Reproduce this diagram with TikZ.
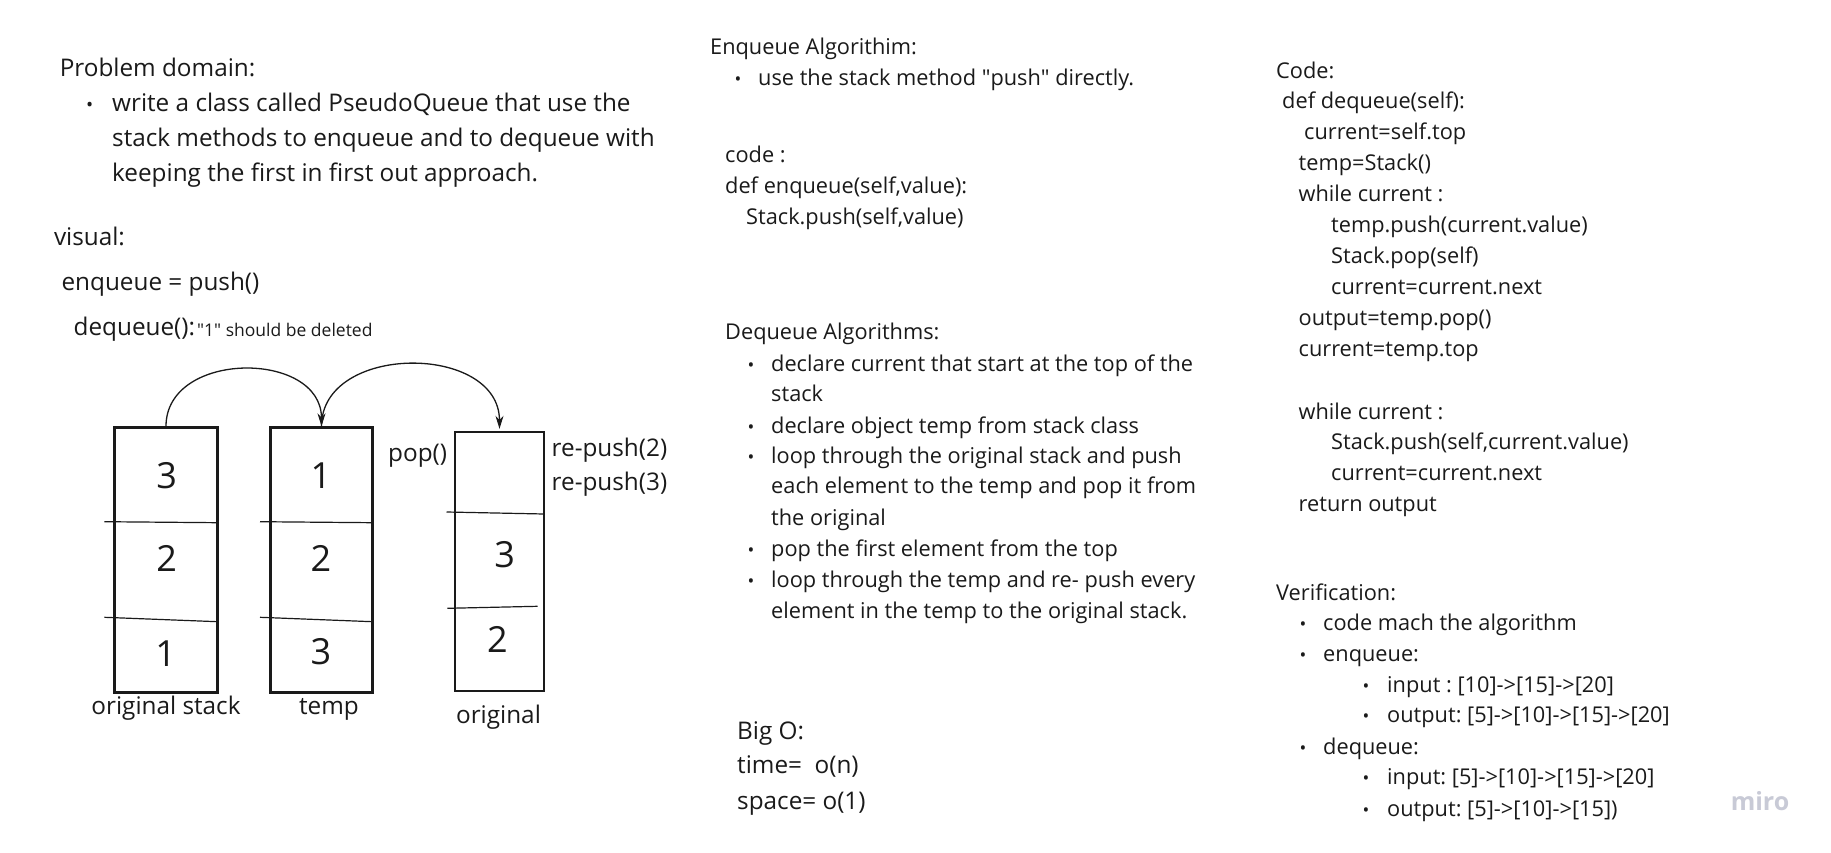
\documentclass[tikz,border=0pt]{standalone}
\usepackage{fontspec}
\setmainfont{Open Sans}
\usetikzlibrary{arrows.meta}
\definecolor{ink}{HTML}{1A1A1A}
\definecolor{mirogray}{HTML}{C8CAD6}
\frenchspacing
\begin{document}
\frenchspacing
\begin{tikzpicture}[x=1pt,y=-1pt,
  t/.style={anchor=base west, inner sep=0pt, text=ink, yshift=-1.5pt, font=\fontsize{21.75}{31}\selectfont},
  tb/.style={anchor=base west, inner sep=0pt, text=ink, font=\fontsize{24.3}{35}\selectfont},
  tbc/.style={anchor=base, inner sep=0pt, text=ink, font=\fontsize{24.3}{35}\selectfont},
  ts/.style={anchor=base west, inner sep=0pt, text=ink, font=\fontsize{17.5}{24}\selectfont},
  bul/.style={anchor=base, inner sep=0pt, text=ink, yshift=-1.5pt, font=\fontsize{18}{20}\selectfont},
  num/.style={anchor=center, inner sep=0pt, text=ink, font=\fontsize{36}{40}\selectfont},
  stackbox/.style={draw=ink, line width=2.4pt, inner sep=0pt},
  divider/.style={draw=ink, line width=1.2pt},
  conn/.style={draw=ink, line width=1.3pt, -{Stealth[length=13pt,width=8pt]}},
]
\useasboundingbox[fill=white] (0,0) rectangle (1831,853);

% ---------- left column ----------
\node[tb] (pd) at (59.6,76.5) {Problem domain:};
\node[bul,yshift=1.5pt,font=\fontsize{19}{20}\selectfont] (pdb) at (89.7,111.7) {•};
\node[tb] (pd1) at (112,111.7) {write a class called PseudoQueue that use the};
\node[tb] (pd2) at (112,146.7) {stack methods to enqueue and to dequeue with};
\node[tb] (pd3) at (112,181.7) {keeping the first in first out approach.};
\node[tb] (vis) at (53.8,245) {visual:};
\node[tb] (enq) at (61.4,290) {enqueue = push()};
\node[tb] (deq) at (73.5,335) {dequeue():};
\node[ts] (deqn) at (197,336.5) {\textquotedbl1\textquotedbl{} should be deleted};

% stacks
\node[stackbox, minimum width=103pt, minimum height=265pt] (b1) at (166,560) {};
\node[stackbox, minimum width=102pt, minimum height=265pt] (b2) at (321.5,560) {};
\node[stackbox, minimum width=89pt, minimum height=259pt] (b3) at (499.5,561.5) {};

\draw[divider] (104.3,521.7) -- (217.8,522.7);
\draw[divider] (104.3,617.3) -- (217.8,621.7);
\draw[divider] (260,521.7) -- (372.5,522.7);
\draw[divider] (260,617.3) -- (372.5,621.7);
\draw[divider] (446.5,512) -- (544,514);
\draw[divider] (447.3,608.3) -- (537.5,606.3);

\node[num] (n13) at (166.6,476) {3};
\node[num] (n12) at (166.6,558.3) {2};
\node[num] (n11) at (165.7,653.3) {1};
\node[num] (n21) at (321,476) {1};
\node[num] (n22) at (321,558.3) {2};
\node[num] (n23) at (321,651.7) {3};
\node[num] (n33) at (504.7,555) {3};
\node[num] (n32) at (497.3,639.3) {2};

\node[tbc] (lb1) at (166,714) {original stack};
\node[tbc] (lb2) at (329,714) {temp};
\node[tbc] (lb3) at (498.5,723) {original};
\node[tb] (pop) at (388,461) {pop()};
\node[tb] (rp2) at (551.5,456.5) {re-push(2)};
\node[tb] (rp3) at (551.5,490.5) {re-push(3)};

\draw[conn] (b1.north) .. controls (166,350) and (321.5,350) .. (b2.north);
\draw[conn, shorten >=2pt] (b2.north) .. controls (321.5,343) and (499.5,343) .. (b3.north);

% ---------- middle column ----------
\node[t] (ea) at (710,53.5) {Enqueue Algorithim:};
\node[bul] (eab) at (738,84.5) {•};
\node[t] (ea1) at (758,84.5) {use the stack method \textquotedbl push\textquotedbl{} directly.};
\node[t] (ec0) at (725,161.5) {code :};
\node[t] (ec1) at (725,192.5) {def enqueue(self,value):};
\node[t] (ec2) at (746,223.5) {Stack.push(self,value)};

\node[t] (da) at (725,338) {Dequeue Algorithms:};
\node[bul] (dab1) at (751,369.7) {•};
\node[t] (da1) at (771,369.7) {declare current that start at the top of the};
\node[t] (da2) at (771,400) {stack};
\node[bul] (dab2) at (751,431.5) {•};
\node[t] (da3) at (771,431.5) {declare object temp from stack class};
\node[bul] (dab3) at (751,462) {•};
\node[t] (da4) at (771,462) {loop through the original stack and push};
\node[t] (da5) at (771,492.3) {each element to the temp and pop it from};
\node[t] (da6) at (771,523.8) {the original};
\node[bul] (dab4) at (751,555.3) {•};
\node[t] (da7) at (771,555.3) {pop the first element from the top};
\node[bul] (dab5) at (751,585.7) {•};
\node[t] (da8) at (771,585.7) {loop through the temp and re- push every};
\node[t] (da9) at (771,617.2) {element in the temp to the original stack.};

\node[tb] (bo0) at (737,739) {Big O:};
\node[tb] (bo1) at (737,773) {time=\ \ o(n)};
\node[tb] (bo2) at (737,809) {space= o(1)};

% ---------- right column ----------
\node[t] (c0) at (1276,76.6) {Code:};
\node[t] (c1) at (1282,107) {def dequeue(self):};
\node[t] (c2) at (1304,138.4) {current=self.top};
\node[t] (c3) at (1298.5,168.8) {temp=Stack()};
\node[t] (c4) at (1298.5,200.3) {while current :};
\node[t] (c5) at (1331,230.7) {temp.push(current.value)};
\node[t] (c6) at (1331,262.2) {Stack.pop(self)};
\node[t] (c7) at (1331,292.6) {current=current.next};
\node[t] (c8) at (1298.5,324.1) {output=temp.pop()};
\node[t] (c9) at (1298.5,354.5) {current=temp.top};
\node[t] (c10) at (1298.5,417.5) {while current :};
\node[t] (c11) at (1331,447.9) {Stack.push(self,current.value)};
\node[t] (c12) at (1331,479.4) {current=current.next};
\node[t] (c13) at (1298.5,509.8) {return output};

\node[t] (v0) at (1276,598.5) {Verification:};
\node[bul] (vb1) at (1303,628.9) {•};
\node[t] (v1) at (1323,628.9) {code mach the algorithm};
\node[bul] (vb2) at (1303,660.4) {•};
\node[t] (v2) at (1323,660.4) {enqueue:};
\node[bul] (vb3) at (1366,690.8) {•};
\node[t] (v3) at (1387,690.8) {input : [10]->[15]->[20]};
\node[bul] (vb4) at (1366,721.1) {•};
\node[t] (v4) at (1387,721.1) {output: [5]->[10]->[15]->[20]};
\node[bul] (vb5) at (1303,752.7) {•};
\node[t] (v5) at (1323,752.7) {dequeue:};
\node[bul] (vb6) at (1366,783) {•};
\node[t] (v6) at (1387,783) {input: [5]->[10]->[15]->[20]};
\node[bul] (vb7) at (1366,814.5) {•};
\node[t] (v7) at (1387,814.5) {output: [5]->[10]->[15])};

\node[anchor=center, inner sep=0pt, text=mirogray, font=\fontsize{25}{30}\selectfont\bfseries] (miro) at (1760,801) {miro};
\end{tikzpicture}
\end{document}
